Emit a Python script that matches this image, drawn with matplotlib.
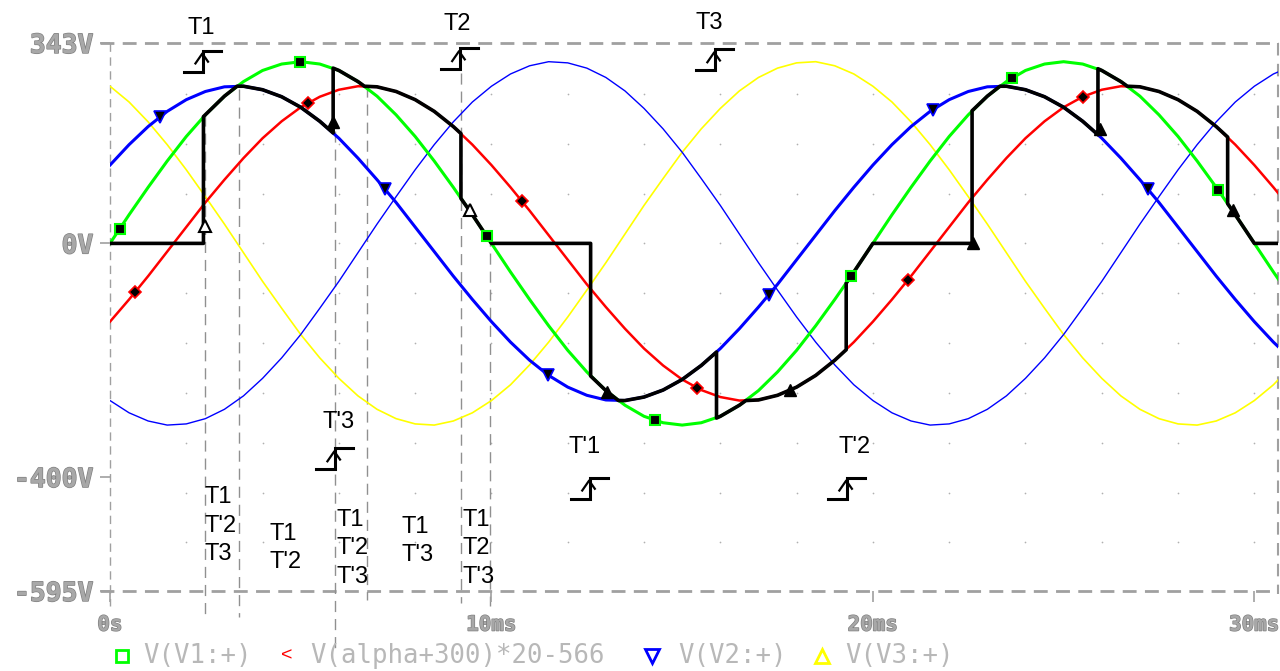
import numpy as np
import matplotlib.pyplot as plt
import matplotlib.patheffects as pe

plt.rcParams['font.family'] = ['Liberation Sans', 'DejaVu Sans']

# sample times (ms), one sample every 0.5 ms
t_ms = np.arange(0, 31.5, 0.5)

# V(V1:+)  green
v_v1 = [0, 49, 96, 141, 183, 220, 252, 277, 296, 307, 311, 307, 296, 277, 252, 220, 183, 141, 96, 49,
        0, -49, -96, -141, -183, -220, -252, -277, -296, -307, -311, -307, -296, -277, -252, -220, -183, -141, -96, -49,
        0, 49, 96, 141, 183, 220, 252, 277, 296, 307, 311, 307, 296, 277, 252, 220, 183, 141, 96, 49,
        0, -49, -96]
# V(alpha+300)*20-566  red
v_alpha = [-134, -96, -56, -14, 28, 70, 109, 146, 180, 209, 233, 251, 263, 269, 268, 260, 246, 226, 200, 169,
           134, 96, 56, 14, -28, -70, -109, -146, -180, -209, -233, -251, -263, -269, -268, -260, -246, -226, -200, -169,
           -134, -96, -56, -14, 28, 70, 109, 146, 180, 209, 233, 251, 263, 269, 268, 260, 246, 226, 200, 169,
           134, 96, 56]
# V(V2:+)  thick blue
v_v2 = [134, 169, 200, 226, 246, 260, 268, 269, 263, 251, 233, 209, 180, 146, 109, 70, 28, -14, -56, -96,
        -134, -169, -200, -226, -246, -260, -268, -269, -263, -251, -233, -209, -180, -146, -109, -70, -28, 14, 56, 96,
        134, 169, 200, 226, 246, 260, 268, 269, 263, 251, 233, 209, 180, 146, 109, 70, 28, -14, -56, -96,
        -134, -169, -200]
# thin blue trace
v_b2 = [-269, -290, -304, -311, -309, -300, -284, -261, -231, -196, -156, -111, -65, -16, 33, 80, 126, 169, 208, 242,
        269, 290, 304, 311, 309, 300, 284, 261, 231, 196, 156, 111, 65, 16, -33, -80, -126, -169, -208, -242,
        -269, -290, -304, -311, -309, -300, -284, -261, -231, -196, -156, -111, -65, -16, 33, 80, 126, 169, 208, 242,
        269, 290, 304]
# V(V3:+)  yellow
v_v3 = [269, 242, 208, 169, 126, 80, 33, -16, -65, -111, -156, -196, -231, -261, -284, -300, -309, -311, -304, -290,
        -269, -242, -208, -169, -126, -80, -33, 16, 65, 111, 156, 196, 231, 261, 284, 300, 309, 311, 304, 290,
        269, 242, 208, 169, 126, 80, 33, -16, -65, -111, -156, -196, -231, -261, -284, -300, -309, -311, -304, -290,
        -269, -242, -208]

# output voltage (black)
out_t = [0, 2.45, 2.45, 3.0, 3.33, 3.5, 4.0, 4.5, 5.0, 5.5,
         5.85, 5.85, 6.0, 6.5, 6.67, 7.0, 7.5, 8.0, 8.5, 9.0,
         9.2, 9.2, 9.5, 10.0, 12.6, 12.6, 13.0, 13.33, 13.5, 14.0,
         14.5, 15.0, 15.5, 15.9, 15.9, 16.0, 16.5, 16.67, 17.0, 17.5,
         18.0, 18.5, 19.0, 19.3, 19.3, 19.5, 20.0, 22.6, 22.6, 23.0,
         23.33, 23.5, 24.0, 24.5, 25.0, 25.5, 25.9, 25.9, 26.0, 26.5,
         26.67, 27.0, 27.5, 28.0, 28.5, 29.0, 29.3, 29.3, 29.5, 30.0, 31.0]
out_v = [0, 0, 217, 252, 269, 269, 263, 251, 233, 209,
         189, 300, 296, 277, 269, 268, 260, 246, 226, 200,
         188, 77, 49, 0, 0, -227, -252, -269, -269, -263,
         -251, -233, -209, -186, -299, -296, -277, -269, -268, -260,
         -246, -226, -200, -182, -68, -49, 0, 0, 227, 252,
         269, 269, 263, 251, 233, 209, 186, 299, 296, 277,
         269, 268, 260, 246, 226, 200, 182, 68, 49, 0, 0]

# trace markers
mk_v1_t = [0.26, 4.98, 9.88, 14.29, 19.42, 23.64, 29.04]
mk_v1_v = [25, 311, 12, -303, -56, 283, 92]
mk_alpha_t = [0.66, 5.19, 10.8, 15.39, 20.92, 25.5]
mk_alpha_v = [-84, 240, 72, -248, -62, 251]
mk_v2_t = [1.31, 7.21, 11.48, 17.27, 21.57, 27.21]
mk_v2_v = [216, 93, -225, -88, 229, 93]
mk_out_t = [5.85, 13.03, 17.82, 22.62, 25.95, 29.45]
mk_out_v = [207, -255, -251, 0, 195, 58]
mk_out_open_t = [2.49, 9.44]
mk_out_open_v = [29, 58]

# switching instants (dashed verticals)
sw_t = [2.49, 3.38, 5.90, 6.74, 9.20, 9.96]
sw_top = [219, 265, 193, 270, 291, 14]
sw_bot = [-640, -640, -697, -611, -616, -620]

# firing pulses
pulse_names = ["T1", "T2", "T3", "T'3", "T'1", "T'2"]
pulse_t = [2.44, 9.17, 15.86, 5.90, 12.58, 19.32]
pulse_v = [330, 334, 332, -351, -401, -401]
name_t = [2.39, 9.10, 15.70, 5.98, 12.45, 19.53]
name_v = [368, 375, 378, -305, -349, -349]

# conducting thyristors per interval
state_text = ["T1\nT'2\nT3", "T1\nT'2", "T1\nT'2\nT'3", "T1\nT'3", "T1\nT2\nT'3"]
state_t = [2.49, 4.19, 5.95, 7.65, 9.25]
state_v = [-416, -478, -454, -466, -454]

yticks = [343, 0, -400, -595]
ylabels = ["343V", "0V", "-400V", "-595V"]
xticks = [0, 10, 20, 30]
xlabels = ["0s", "10ms", "20ms", "30ms"]

gray = '#a0a0a0'

fig = plt.figure(figsize=(12.8, 6.71), dpi=100)
ax = fig.add_axes([110 / 1280, 80 / 671, 1168 / 1280, 548 / 671])
ax.set_xlim(0, 30.62)
ax.set_ylim(-595, 343)
for s in ax.spines.values():
    s.set_visible(False)

# frame
ax.plot([-0.26, 30.62], [343, 343], color=gray, lw=2, ls=(0, (5, 3)), clip_on=False, zorder=1)
ax.plot([-0.26, 30.62], [-595, -595], color=gray, lw=2, ls=(0, (5, 3)), clip_on=False, zorder=1)
ax.plot([0, 0], [343, -620], color=gray, lw=1, ls=(0, (6, 4)), clip_on=False, zorder=1)
ax.plot([30.62, 30.62], [343, -600], color=gray, lw=1.5, ls=(0, (6, 4)), clip_on=False, zorder=1)

# grid dots
gx, gy = np.meshgrid(np.arange(2, 31, 2), np.arange(-6, 4) * 85.3)
ax.scatter(gx.ravel(), gy.ravel(), s=1.5, color='#b0b0b0', lw=0, zorder=1)

for t0, a, b in zip(sw_t, sw_top, sw_bot):
    ax.plot([t0, t0], [a, b], color='#909090', lw=1, ls=(0, (8, 5)), clip_on=False, zorder=1)

ax.plot(t_ms, v_v3, color='#ffff00', lw=1.2, zorder=2)
ax.plot(t_ms, v_b2, color='#0000ff', lw=1.0, zorder=2)
ax.plot(t_ms, v_v1, color='#00ff00', lw=2.2, zorder=3)
ax.plot(t_ms, v_alpha, color='#ff0000', lw=1.8, zorder=3)
ax.plot(t_ms, v_v2, color='#0000ff', lw=2.2, zorder=3)
ax.plot(out_t, out_v, color='k', lw=2.6, zorder=4)

ax.plot(mk_v1_t, mk_v1_v, ls='none', marker='s', ms=7, mfc='k', mec='#00ff00', mew=1.5, zorder=5)
ax.plot(mk_alpha_t, mk_alpha_v, ls='none', marker='D', ms=6.5, mfc='k', mec='#ff0000', mew=1.2, zorder=5)
ax.plot(mk_v2_t, mk_v2_v, ls='none', marker='v', ms=9, mfc='k', mec='#0000ff', mew=1.2, zorder=5)
ax.plot(mk_out_t, mk_out_v, ls='none', marker='^', ms=9, mfc='k', mec='k', zorder=5)
ax.plot(mk_out_open_t, mk_out_open_v, ls='none', marker='^', ms=9, mfc='white', mec='k', mew=1.5, zorder=5)

# firing pulse symbols
for name, t0, v0, nt, nv in zip(pulse_names, pulse_t, pulse_v, name_t, name_v):
    ax.plot([t0 - 0.5, t0, t0, t0 + 0.48], [v0 - 36, v0 - 36, v0, v0], color='k', lw=2.2,
            solid_joinstyle='miter', clip_on=False, zorder=6)
    ax.plot([t0 - 0.2, t0 - 0.02, t0 + 0.13], [v0 - 22, v0 - 5, v0 - 19], color='k', lw=1.6,
            clip_on=False, zorder=6)
    ax.text(nt, nv, name, fontsize=17, ha='center', va='center', clip_on=False, zorder=6)

for txt, t0, v0 in zip(state_text, state_t, state_v):
    ax.text(t0, v0, txt, fontsize=17, ha='left', va='top', linespacing=1.38, zorder=6)

# axes ticks
ax.set_yticks(yticks)
ax.set_yticklabels(ylabels)
ax.set_xticks(xticks)
ax.set_xticklabels(xlabels)
ax.tick_params(axis='y', direction='out', length=7, width=1.2, color=gray, pad=5)
ax.tick_params(axis='x', direction='out', length=8, width=1.2, color=gray, pad=9)
for lbl in ax.get_yticklabels():
    lbl.set_fontfamily('DejaVu Sans Mono')
    lbl.set_fontweight('bold')
    lbl.set_fontsize(19)
    lbl.set_color('#a8a8a8')
    lbl.set_path_effects([pe.withStroke(linewidth=1, foreground='#808080')])
for lbl in ax.get_xticklabels():
    lbl.set_fontfamily('DejaVu Sans Mono')
    lbl.set_fontweight('bold')
    lbl.set_fontsize(15)
    lbl.set_color('#a8a8a8')
    lbl.set_path_effects([pe.withStroke(linewidth=1, foreground='#808080')])

# legend row
leg_names = ["V(V1:+)", "V(alpha+300)*20-566", "V(V2:+)", "V(V3:+)"]
leg_text_x = [143, 310, 678, 845]
leg_mark_x = [122, 287, 652, 822]
leg_y = 1 - 656 / 671
for name, xt in zip(leg_names, leg_text_x):
    fig.text(xt / 1280, leg_y, name, fontsize=18.5, family='DejaVu Sans Mono', color='#b8b8b8',
             ha='left', va='center')
fig.add_artist(plt.Line2D([leg_mark_x[0] / 1280], [leg_y], marker='s', ms=9, mfc='none',
                          mec='#00ff00', mew=2, transform=fig.transFigure))
fig.text(leg_mark_x[1] / 1280, leg_y, '<', fontsize=14, color='#ff0000', ha='center', va='center')
fig.add_artist(plt.Line2D([leg_mark_x[2] / 1280], [leg_y], marker='v', ms=10, mfc='none',
                          mec='#0000ff', mew=2, transform=fig.transFigure))
fig.add_artist(plt.Line2D([leg_mark_x[3] / 1280], [leg_y], marker='^', ms=10, mfc='none',
                          mec='#ffff00', mew=2, transform=fig.transFigure))

fig.savefig('out.png', dpi=100)
